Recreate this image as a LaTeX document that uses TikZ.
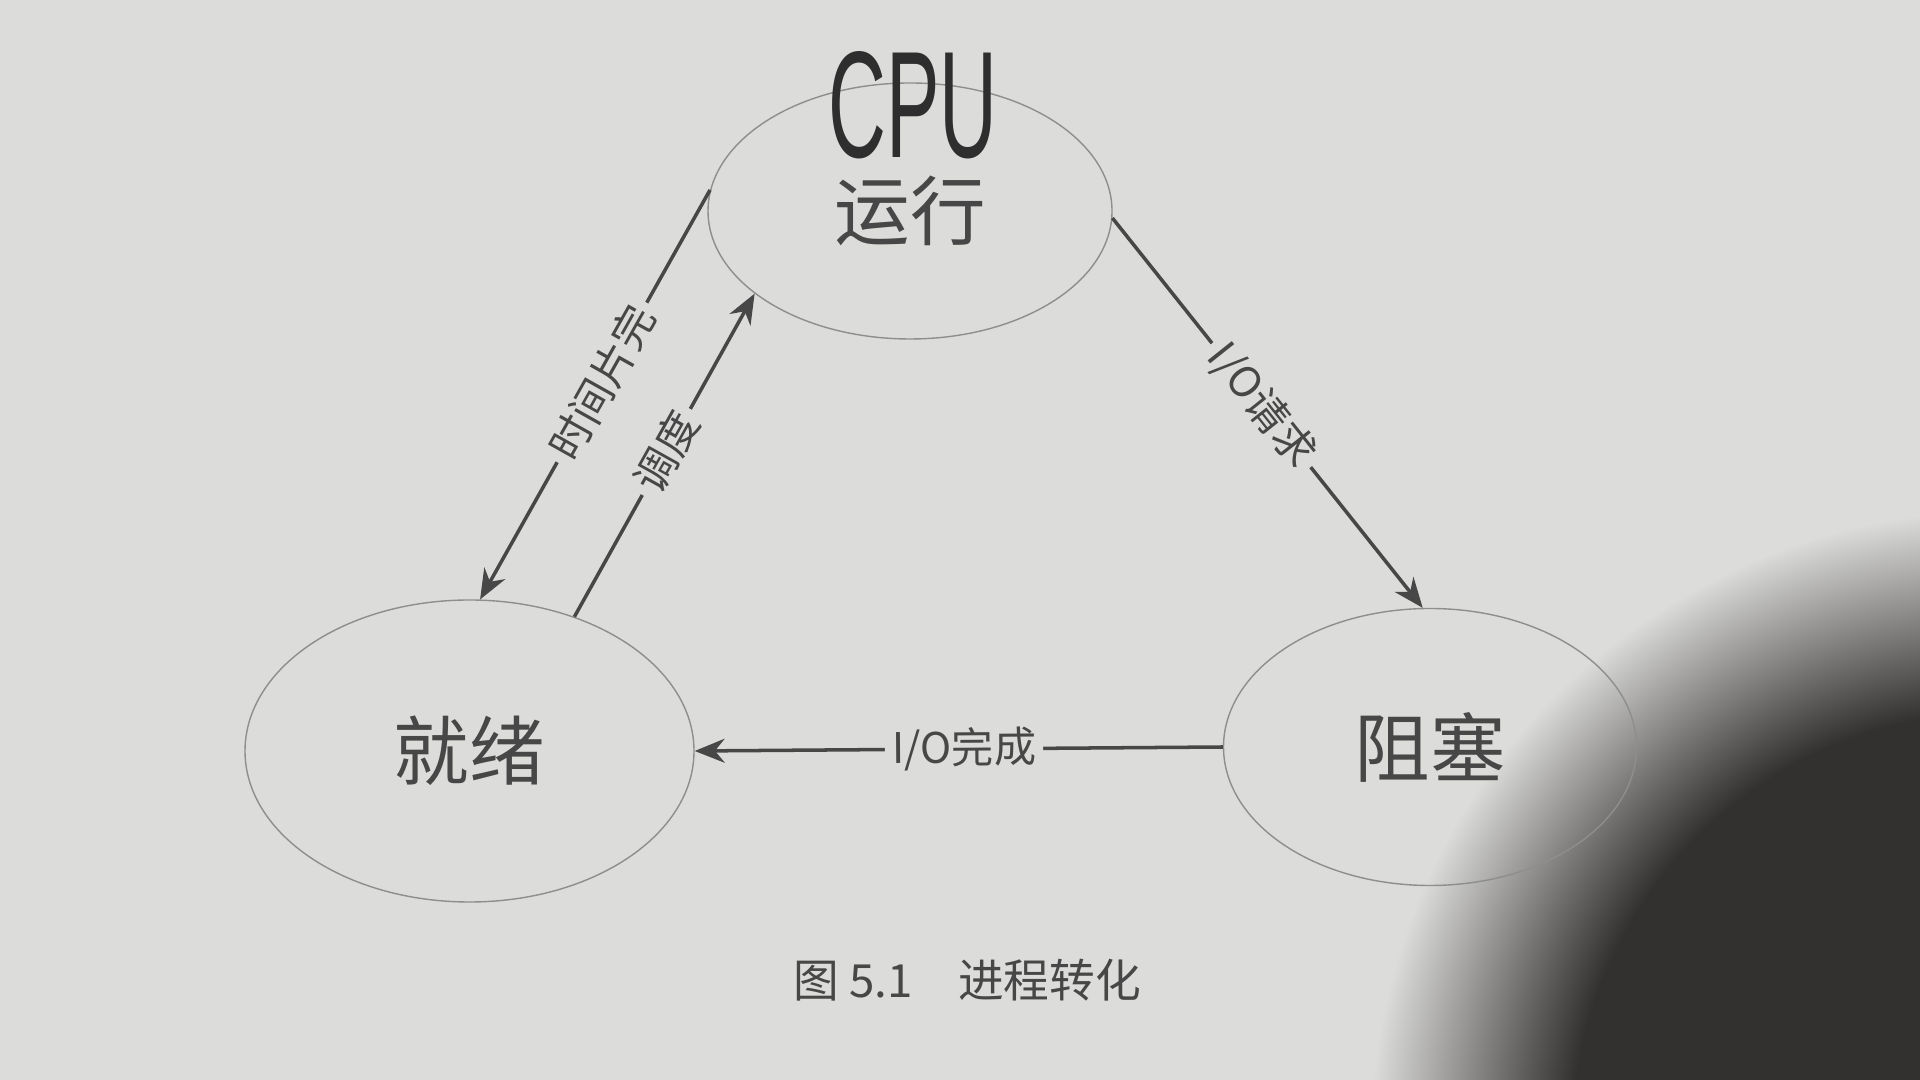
\documentclass[tikz,border=0pt]{standalone}
\usepackage{fontspec}
\setmainfont{Noto Sans CJK SC}
\newfontfamily\handfont{Liberation Sans}
\usepackage{tikz}
\usetikzlibrary{positioning, arrows.meta, shapes.geometric}
\definecolor{paper}{HTML}{DCDCDA}
\definecolor{ink}{HTML}{474747}
\definecolor{rim}{HTML}{8E8E8E}
\definecolor{pen}{HTML}{2E2E2E}
\definecolor{shadowc}{HTML}{33312F}
\pgfdeclareradialshading{shadowblob}{\pgfpoint{0bp}{0bp}}{%
  color(0bp)=(shadowc); color(17bp)=(shadowc); color(25bp)=(paper); color(50bp)=(paper)}
\tikzset{
  proc state/.style={
    ellipse,
    draw=rim,
    thin,
    text=ink,
    font=\fontsize{21.5}{21.5}\selectfont,
    inner sep=0pt
  },
  proc arrow/.style={
    -{Stealth[length=3mm, width=2.4mm]},
    draw=ink,
    line width=1pt
  },
  trans label/.style={
    sloped, fill=paper, inner sep=2pt, text=ink,
    font=\fontsize{12}{12}\selectfont
  }
}

\begin{document}
\begin{tikzpicture}
  % page
  \useasboundingbox (0, 0) rectangle (19.2, 10.8);
  \fill[paper] (0, 0) rectangle (19.2, 10.8);
  \begin{scope}
    \clip (0, 0) rectangle (19.2, 10.8);
    \shade[shading=shadowblob] (20.0, -0.6) circle (6.3);
  \end{scope}

  % states
  \node[proc state, minimum width=4.04cm, minimum height=2.56cm] (run) at (9.10, 8.69) {运行};
  \node[proc state, minimum width=4.49cm, minimum height=3.02cm] (ready) at (4.695, 3.29) {就绪};
  \node[proc state, minimum width=4.13cm, minimum height=2.77cm] (blocked) at (14.30, 3.33) {阻塞};

  % transitions
  \draw[proc arrow] (run.174) -- node[trans label, pos=0.47] {时间片完} (ready.86);
  \draw[proc arrow] (ready.52) -- node[trans label, pos=0.51] {调度} (run.208);
  \draw[proc arrow] (run.-2) -- node[trans label, pos=0.48] {I/O请求} (blocked.93);
  \draw[proc arrow] (blocked.180) -- node[trans label, pos=0.49] {I/O完成} (ready.0);

  % handwriting
  \node[text=pen, inner sep=0pt] (cpu) at (9.13, 9.75) {\scalebox{0.95}[1.8]{\handfont\fontsize{24}{24}\selectfont CPU}};

  % caption
  \node[text=ink, font=\fontsize{13}{13}\selectfont] (caption) at (9.67, 1.00) {图 5.1\quad 进程转化};
\end{tikzpicture}
\end{document}
